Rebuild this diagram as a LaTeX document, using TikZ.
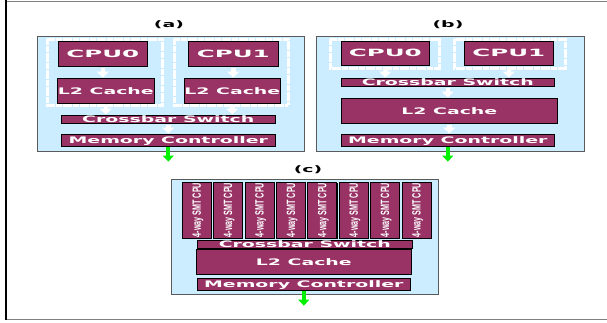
\documentclass[tikz,border=0pt]{standalone}
\usepackage{fontspec}
\usepackage{tikz}
\usetikzlibrary{arrows.meta,positioning,shadows}
\newfontfamily\boxfont{DejaVu Sans Bold}[FakeStretch=2.1]
\newfontfamily\cpufont{DejaVu Sans Bold}[FakeStretch=2.45]
\newfontfamily\smtfont{Liberation Sans Bold}[FakeStretch=0.6]
\definecolor{panelblue}{RGB}{204,236,255}
\definecolor{plum}{RGB}{153,51,102}
\definecolor{edgegray}{RGB}{90,90,90}
\definecolor{outgreen}{RGB}{0,240,0}

\begin{document}
\begin{tikzpicture}[x=1pt,y=-1pt,
	panel/.style={draw=edgegray,fill=panelblue,line width=0.8pt,inner sep=0pt,anchor=north west,
		drop shadow={shadow xshift=1pt,shadow yshift=-1pt,fill=edgegray,opacity=1}},
	unit/.style={draw=black,fill=plum,line width=0.6pt,text=white,inner sep=0pt,anchor=north west,
		font=\boxfont\fontsize{9}{9}\selectfont,text height=6.6pt,text depth=0pt,
		drop shadow={shadow xshift=1pt,shadow yshift=-1pt,fill=black,opacity=1}},
	cpu/.style={unit,font=\cpufont\fontsize{10}{10}\selectfont,text height=7.3pt},
	smt/.style={unit,anchor=center,rotate=90,minimum width=56pt,minimum height=29pt,
		font=\smtfont\fontsize{12}{12}\selectfont,text height=8.6pt},
	group/.style={draw=white,line width=3pt,dash pattern=on 3pt off 0.4pt},
	lbl/.style={font=\boxfont\fontsize{9}{9}\selectfont,inner sep=0pt},
	flow/.style={draw=white,line width=4.5pt,-{Triangle[width=12pt,length=6pt]},shorten <=1pt,shorten >=0.5pt},
	outflow/.style={draw=outgreen,line width=4pt,-{Triangle[width=11pt,length=6pt]}}]
\useasboundingbox (0,0) rectangle (607,322);
\draw[gray,line width=1pt] (6,1) -- (607,1);
\draw[gray,line width=1pt] (6,319) -- (607,319);
\draw[black,line width=2pt] (6,0) -- (6,320);

\node[lbl] (la) at (169,25) {(a)};
\node[panel,minimum width=267pt,minimum height=115pt] (pa) at (37,36) {};
\draw[group] (47,39) rectangle (162,105);
\draw[group] (174,39) rectangle (288,105);
\node[cpu,minimum width=89pt,minimum height=25pt] (cpua0) at (58,41) {CPU0};
\node[cpu,minimum width=90pt,minimum height=25pt] (cpua1) at (188,41) {CPU1};
\node[unit,minimum width=97pt,minimum height=25pt] (l2a0) at (57,78) {L2 Cache};
\node[unit,minimum width=96pt,minimum height=25pt] (l2a1) at (184,78) {L2 Cache};
\node[unit,minimum width=214pt,minimum height=8pt] (xbara) at (61,115) {Crossbar Switch};
\node[unit,minimum width=214pt,minimum height=12pt] (mca) at (61,134) {Memory Controller};
\draw[flow] (cpua0.south) -- (cpua0.south |- l2a0.north);
\draw[flow] (cpua1.south) -- (cpua1.south |- l2a1.north);
\draw[flow] (l2a0.south) -- (l2a0.south |- xbara.north);
\draw[flow] (l2a1.south) -- (l2a1.south |- xbara.north);
\draw[flow] (xbara.south) -- (xbara.south |- mca.north);
\coordinate[below=15pt of mca.south] (outa);
\draw[outflow] (mca.south) -- (outa);

\node[lbl] (lb) at (448,25) {(b)};
\node[panel,minimum width=268pt,minimum height=115pt] (pb) at (316,36) {};
\draw[group] (330,39) rectangle (439,68);
\draw[group] (454,39) rectangle (565,68);
\node[cpu,minimum width=88pt,minimum height=24pt] (cpub0) at (341,41) {CPU0};
\node[cpu,minimum width=89pt,minimum height=24pt] (cpub1) at (464,41) {CPU1};
\node[unit,minimum width=213pt,minimum height=8pt] (xbarb) at (341,78) {Crossbar Switch};
\node[unit,minimum width=216pt,minimum height=25pt] (l2b) at (341,98) {L2 Cache};
\node[unit,minimum width=213pt,minimum height=12pt] (mcb) at (341,134) {Memory Controller};
\draw[flow] (cpub0.south) -- (cpub0.south |- xbarb.north);
\draw[flow] (cpub1.south) -- (cpub1.south |- xbarb.north);
\draw[flow] (xbarb.south) -- (xbarb.south |- l2b.north);
\draw[flow] (l2b.south) -- (l2b.south |- mcb.north);
\coordinate[below=15pt of mcb.south] (outb);
\draw[outflow] (mcb.south) -- (outb);

\node[lbl] (lc) at (308,170) {(c)};
\node[panel,minimum width=267pt,minimum height=115pt] (pc) at (171,179) {};
\foreach \i in {0,...,7}
	\node[smt] (cpuc\i) at ({196.5+31.4*\i},210) {4-way SMT CPU};
\node[unit,minimum width=215pt,minimum height=8pt] (xbarc) at (197,240) {Crossbar Switch};
\node[unit,minimum width=215pt,minimum height=25pt] (l2c) at (196,249) {L2 Cache};
\node[unit,minimum width=213pt,minimum height=12pt] (mcc) at (197,278) {Memory Controller};
\coordinate[below=15pt of mcc.south] (outc);
\draw[outflow] (mcc.south) -- (outc);
\end{tikzpicture}
\end{document}
